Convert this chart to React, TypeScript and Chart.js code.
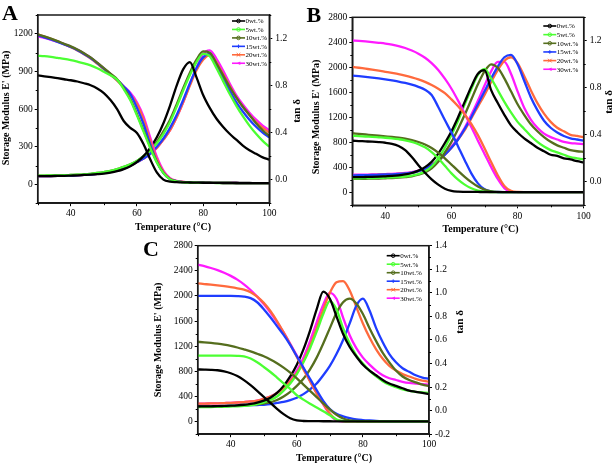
import React, { useEffect, useRef } from "react";
import { Chart, registerables } from "chart.js";
Chart.register(...registerables);

// ---------------- data ----------------
const temps = [30,32,34,36,38,40,42,44,46,48,50,52,54,56,58,60,62,64,66,68,70,72,74,76,78,80,82,84,86,88,90,92,94,96,98,100];

const seriesLabels = ["0wt.%", "5wt.%", "10wt.%", "15wt.%", "20wt.%", "30wt.%"];
const seriesColors = ["#000000", "#4cff33", "#556e1e", "#1f3dff", "#ff6a3d", "#ff1aff"];

// Panel A — storage modulus (MPa)
const aMod0 = [868,861,854,846,838,830,820,806,790,765,728,672,600,505,450,410,320,200,95,38,22,18,16,15,14,13,13,12,12,12,11,11,11,10,10,10];
const aMod5 = [1025,1022,1016,1008,1000,990,978,965,948,925,898,870,835,760,670,550,420,290,175,90,40,22,17,14,13,12,12,11,11,11,10,10,10,10,10,10];
const aMod10 = [1195,1180,1162,1142,1120,1100,1075,1045,1012,970,927,882,838,770,680,560,430,300,180,92,42,24,18,15,14,13,12,12,11,11,11,10,10,10,10,10];
const aMod15 = [1188,1172,1155,1136,1116,1095,1070,1040,1007,966,922,878,833,780,720,610,480,320,180,90,42,25,18,15,14,13,12,12,11,11,11,10,10,10,10,10];
const aMod20 = [1195,1178,1160,1140,1117,1093,1067,1037,1003,962,918,873,826,772,715,640,515,350,200,100,46,27,19,16,14,13,12,12,11,11,11,10,10,10,10,10];
const aMod30 = [1180,1168,1153,1137,1118,1097,1073,1044,1010,968,924,880,835,782,730,655,540,375,220,110,50,28,20,16,14,13,12,12,11,11,11,10,10,10,10,10];
// Panel A — tan delta
const aTan0 = [0.03,0.03,0.03,0.032,0.033,0.035,0.037,0.04,0.043,0.047,0.052,0.06,0.072,0.09,0.115,0.15,0.2,0.27,0.36,0.48,0.63,0.8,0.94,1.0,0.87,0.72,0.61,0.52,0.45,0.39,0.34,0.29,0.25,0.22,0.19,0.17];
const aTan5 = [0.035,0.035,0.036,0.037,0.038,0.04,0.042,0.045,0.05,0.057,0.065,0.075,0.09,0.11,0.13,0.16,0.2,0.25,0.31,0.39,0.49,0.62,0.76,0.89,1.0,1.07,1.05,0.95,0.84,0.73,0.63,0.54,0.46,0.39,0.33,0.28];
const aTan10 = [0.035,0.035,0.036,0.037,0.038,0.04,0.042,0.045,0.05,0.057,0.065,0.075,0.09,0.11,0.13,0.16,0.2,0.25,0.32,0.41,0.51,0.64,0.78,0.91,1.02,1.09,1.08,0.99,0.89,0.79,0.7,0.62,0.55,0.48,0.42,0.37];
const aTan15 = [0.03,0.03,0.031,0.032,0.033,0.035,0.037,0.04,0.044,0.05,0.057,0.066,0.078,0.093,0.12,0.15,0.18,0.22,0.28,0.35,0.44,0.55,0.68,0.82,0.95,1.04,1.07,0.98,0.87,0.76,0.66,0.58,0.51,0.45,0.4,0.36];
const aTan20 = [0.03,0.03,0.031,0.032,0.033,0.035,0.037,0.04,0.044,0.05,0.057,0.066,0.078,0.093,0.12,0.15,0.18,0.22,0.27,0.34,0.42,0.53,0.66,0.8,0.93,1.02,1.06,1.0,0.9,0.8,0.7,0.62,0.55,0.49,0.44,0.4];
const aTan30 = [0.03,0.03,0.031,0.032,0.033,0.035,0.037,0.04,0.044,0.05,0.057,0.066,0.078,0.093,0.12,0.15,0.18,0.22,0.27,0.34,0.42,0.53,0.66,0.81,0.95,1.07,1.1,1.03,0.93,0.82,0.72,0.64,0.57,0.51,0.46,0.42];

// Panel B — storage modulus (MPa)
const bMod0 = [830,825,820,815,808,798,780,745,680,570,440,320,215,130,65,30,18,15,14,13,12,12,11,11,11,11,10,10,10,10,10,10,10,10,10,10];
const bMod5 = [910,905,898,892,885,878,868,855,838,812,775,725,650,550,430,310,210,130,72,35,18,12,10,10,10,10,10,10,10,10,10,10,10,10,10,10];
const bMod10 = [950,940,930,920,910,900,890,878,862,840,810,770,715,640,550,450,350,255,170,100,50,22,13,11,10,10,10,10,10,10,10,10,10,10,10,10];
const bMod15 = [1870,1860,1850,1838,1825,1810,1793,1775,1752,1725,1690,1645,1560,1370,1160,960,740,520,310,150,55,20,12,10,10,10,10,10,10,10,10,10,10,10,10,10];
const bMod20 = [2010,1995,1980,1965,1948,1930,1912,1893,1870,1842,1810,1770,1720,1660,1590,1490,1380,1250,1100,920,710,490,280,110,30,12,10,10,10,10,10,10,10,10,10,10];
const bMod30 = [2430,2423,2415,2405,2393,2380,2363,2340,2310,2270,2220,2155,2070,1960,1820,1660,1470,1260,1050,830,620,410,220,75,15,10,10,10,10,10,10,10,10,10,10,10];
// Panel B — tan delta
const bTan0 = [0.04,0.04,0.041,0.042,0.044,0.047,0.05,0.055,0.063,0.075,0.095,0.125,0.17,0.24,0.33,0.43,0.55,0.68,0.81,0.92,0.95,0.78,0.67,0.57,0.48,0.42,0.37,0.33,0.29,0.26,0.23,0.22,0.2,0.19,0.175,0.165];
const bTan5 = [0.03,0.03,0.031,0.032,0.033,0.035,0.037,0.04,0.045,0.053,0.065,0.09,0.13,0.2,0.29,0.4,0.52,0.66,0.79,0.91,0.96,0.88,0.78,0.68,0.59,0.51,0.45,0.39,0.34,0.3,0.27,0.25,0.23,0.21,0.2,0.19];
const bTan10 = [0.025,0.025,0.026,0.027,0.028,0.03,0.032,0.035,0.04,0.047,0.06,0.08,0.115,0.17,0.25,0.34,0.45,0.57,0.7,0.83,0.94,1.0,0.97,0.88,0.77,0.66,0.57,0.49,0.43,0.38,0.34,0.31,0.29,0.27,0.26,0.255];
const bTan15 = [0.055,0.056,0.057,0.058,0.06,0.062,0.064,0.067,0.071,0.077,0.09,0.11,0.14,0.18,0.23,0.29,0.36,0.45,0.55,0.66,0.77,0.88,0.98,1.06,1.08,1.0,0.86,0.72,0.61,0.52,0.46,0.42,0.39,0.37,0.36,0.35];
const bTan20 = [0.055,0.056,0.057,0.058,0.06,0.062,0.064,0.067,0.071,0.077,0.09,0.11,0.14,0.18,0.23,0.29,0.36,0.44,0.54,0.64,0.74,0.85,0.95,1.03,1.06,1.01,0.9,0.78,0.67,0.58,0.51,0.46,0.43,0.4,0.39,0.38];
const bTan30 = [0.06,0.06,0.061,0.062,0.064,0.066,0.068,0.071,0.075,0.082,0.095,0.115,0.145,0.185,0.235,0.3,0.37,0.46,0.57,0.69,0.82,0.94,1.02,1.02,0.92,0.77,0.63,0.53,0.46,0.41,0.38,0.36,0.34,0.33,0.325,0.32];

// Panel C — storage modulus (MPa)
const cMod0 = [830,828,825,818,800,770,725,660,580,490,395,300,205,120,55,20,10,8,7,6,6,5,5,5,5,5,5,5,5,5,5,5,5,5,5,5];
const cMod5 = [1050,1050,1050,1050,1050,1050,1048,1040,1005,945,870,790,700,610,520,420,350,285,225,165,100,35,10,5,5,5,5,5,5,5,5,5,5,5,5,5];
const cMod10 = [1270,1262,1252,1240,1225,1205,1180,1150,1118,1080,1040,990,930,860,780,690,590,490,390,290,195,110,50,20,10,8,6,5,5,5,5,5,5,5,5,5];
const cMod15 = [2000,2000,2000,2000,2000,2000,1998,1990,1965,1900,1790,1660,1520,1380,1220,1040,860,680,500,330,200,125,85,55,35,25,18,12,8,6,5,5,5,5,5,5];
const cMod20 = [2200,2190,2180,2168,2155,2140,2122,2100,2060,1990,1890,1760,1600,1420,1230,1030,830,640,450,280,130,30,8,5,5,5,5,5,5,5,5,5,5,5,5,5];
const cMod30 = [2500,2475,2445,2410,2370,2320,2260,2185,2095,1990,1870,1735,1585,1420,1240,1050,850,650,455,275,115,20,5,5,5,5,5,5,5,5,5,5,5,5,5,5];
// Panel C — tan delta
const cTan0 = [0.035,0.036,0.037,0.038,0.04,0.042,0.045,0.05,0.057,0.068,0.085,0.11,0.15,0.21,0.29,0.39,0.52,0.68,0.86,1.01,0.95,0.8,0.65,0.54,0.46,0.39,0.34,0.3,0.26,0.23,0.21,0.19,0.17,0.16,0.15,0.14];
const cTan5 = [0.03,0.03,0.031,0.032,0.033,0.035,0.037,0.04,0.045,0.055,0.07,0.09,0.12,0.17,0.23,0.31,0.41,0.53,0.67,0.82,0.93,0.86,0.7,0.57,0.47,0.4,0.34,0.29,0.25,0.22,0.2,0.18,0.17,0.16,0.155,0.15];
const cTan10 = [0.035,0.035,0.036,0.037,0.038,0.04,0.042,0.045,0.049,0.054,0.06,0.07,0.09,0.12,0.16,0.21,0.27,0.35,0.45,0.57,0.7,0.83,0.92,0.95,0.91,0.82,0.7,0.59,0.49,0.41,0.34,0.29,0.26,0.24,0.22,0.21];
const cTan15 = [0.035,0.035,0.036,0.037,0.038,0.04,0.042,0.044,0.046,0.048,0.05,0.055,0.065,0.075,0.09,0.11,0.14,0.18,0.23,0.3,0.38,0.48,0.6,0.74,0.89,0.95,0.85,0.7,0.58,0.48,0.41,0.36,0.33,0.3,0.28,0.27];
const cTan20 = [0.06,0.06,0.061,0.062,0.064,0.066,0.069,0.073,0.078,0.086,0.1,0.12,0.15,0.19,0.25,0.32,0.42,0.55,0.7,0.86,1.0,1.09,1.1,1.02,0.88,0.74,0.62,0.52,0.44,0.38,0.34,0.31,0.29,0.27,0.255,0.245];
const cTan30 = [0.06,0.06,0.061,0.062,0.064,0.066,0.069,0.073,0.078,0.086,0.1,0.12,0.15,0.2,0.26,0.34,0.45,0.59,0.75,0.9,1.0,0.95,0.79,0.64,0.53,0.45,0.39,0.34,0.3,0.275,0.26,0.245,0.235,0.23,0.225,0.22];

// tick labels
const xTickValues = [40, 60, 80, 100];
const aModTicks = [0, 300, 600, 900, 1200];
const aTanTicks = [0.0, 0.4, 0.8, 1.2];
const bModTicks = [0, 400, 800, 1200, 1600, 2000, 2400, 2800];
const bTanTicks = [0.0, 0.4, 0.8, 1.2];
const cModTicks = [0, 400, 800, 1200, 1600, 2000, 2400, 2800];
const cTanTicks = [-0.2, 0.0, 0.2, 0.4, 0.6, 0.8, 1.0, 1.2, 1.4];

const xTitle = "Temperature (\u00B0C)";
const yTitle = "Storage Modulus E' (MPa)";
const y2Title = "tan \u03B4";

// ---------------- layout ----------------
const W = 614, H = 465;
const SERIF = "'Liberation Serif', 'Times New Roman', serif";

type Panel = {
  letter: string;
  mod: number[][];
  tan: number[][];
  modRange: [number, number];
  tanRange: [number, number];
  modTicks: number[];
  tanTicks: number[];
  rect: { l: number; r: number; t: number; b: number };
  letterPos: [number, number];
  legend: { x: number; y: number; dy: number };
  yTitlePos: [number, number];
  y2TitlePos: [number, number];
  xTitlePos: [number, number];
};

const panels: Panel[] = [
  {
    letter: "A",
    mod: [aMod0, aMod5, aMod10, aMod15, aMod20, aMod30],
    tan: [aTan0, aTan5, aTan10, aTan15, aTan20, aTan30],
    modRange: [-150, 1350], tanRange: [-0.2, 1.4],
    modTicks: aModTicks, tanTicks: aTanTicks,
    rect: { l: 37.7, r: 269.3, t: 15, b: 203.2 },
    letterPos: [2, 19.5],
    legend: { x: 232, y: 21, dy: 8.45 },
    yTitlePos: [6.5, 108], y2TitlePos: [297.5, 111], xTitlePos: [173, 227],
  },
  {
    letter: "B",
    mod: [bMod0, bMod5, bMod10, bMod15, bMod20, bMod30],
    tan: [bTan0, bTan5, bTan10, bTan15, bTan20, bTan30],
    modRange: [-200, 2800], tanRange: [-0.2, 1.4],
    modTicks: bModTicks, tanTicks: bTanTicks,
    rect: { l: 352.3, r: 583.7, t: 17.3, b: 205.3 },
    letterPos: [306.5, 21.7],
    legend: { x: 543.3, y: 26, dy: 8.65 },
    yTitlePos: [316, 117], y2TitlePos: [609.5, 102], xTitlePos: [480.5, 229],
  },
  {
    letter: "C",
    mod: [cMod0, cMod5, cMod10, cMod15, cMod20, cMod30],
    tan: [cTan0, cTan5, cTan10, cTan15, cTan20, cTan30],
    modRange: [-200, 2800], tanRange: [-0.2, 1.4],
    modTicks: cModTicks, tanTicks: cTanTicks,
    rect: { l: 197.7, r: 429, t: 245.7, b: 434.2 },
    letterPos: [143, 255.5],
    legend: { x: 386.7, y: 255.7, dy: 8.5 },
    yTitlePos: [158.3, 340], y2TitlePos: [460, 322], xTitlePos: [334, 458.3],
  },
];

const Y_W = 30, Y1_W = 30, X_H = 20;

function drawMarker(ctx: CanvasRenderingContext2D, i: number, x: number, y: number, color: string) {
  ctx.save();
  ctx.strokeStyle = color;
  ctx.fillStyle = color;
  ctx.lineWidth = 1;
  const r = 1.8;
  ctx.beginPath();
  if (i === 3) {
    ctx.moveTo(x - r, y); ctx.lineTo(x + r, y);
    ctx.moveTo(x, y - r); ctx.lineTo(x, y + r);
    ctx.stroke();
  } else if (i === 5) {
    ctx.moveTo(x - r, y); ctx.lineTo(x + r, y - r); ctx.lineTo(x + r, y + r); ctx.closePath();
    ctx.fill();
  } else if (i === 4) {
    ctx.moveTo(x - r, y - r); ctx.lineTo(x + r, y + r);
    ctx.moveTo(x + r, y - r); ctx.lineTo(x - r, y + r);
    ctx.moveTo(x - r, y); ctx.lineTo(x + r, y);
    ctx.stroke();
  } else {
    ctx.arc(x, y, r, 0, Math.PI * 2);
    ctx.stroke();
  }
  ctx.restore();
}

function makeDecor(p: Panel) {
  return {
    id: "decor" + p.letter,
    afterDraw(chart: any) {
      const ctx: CanvasRenderingContext2D = chart.ctx;
      const ca = chart.chartArea;
      const ys = chart.scales.y, y1s = chart.scales.y1, xs = chart.scales.x;
      ctx.save();
      // frame
      ctx.strokeStyle = "#1a1a1a";
      ctx.lineWidth = 1.5;
      ctx.strokeRect(ca.left, ca.top, ca.right - ca.left, ca.bottom - ca.top);
      // minor ticks
      ctx.lineWidth = 1;
      ctx.strokeStyle = "#000";
      ctx.beginPath();
      const mStep = (p.modTicks[1] - p.modTicks[0]) / 2;
      for (let v = p.modTicks[0] - mStep; v <= p.modRange[1] + 1e-9; v += 2 * mStep) {
        if (v < p.modRange[0]) continue;
        const yy = Math.round(ys.getPixelForValue(v)) + 0.5;
        ctx.moveTo(ca.left, yy); ctx.lineTo(ca.left - 2, yy);
      }
      const tStep = (p.tanTicks[1] - p.tanTicks[0]) / 2;
      for (let v = p.tanTicks[0] - tStep; v <= p.tanRange[1] + 1e-9; v += 2 * tStep) {
        if (v < p.tanRange[0] - 1e-9) continue;
        const yy = Math.round(y1s.getPixelForValue(v)) + 0.5;
        ctx.moveTo(ca.right, yy); ctx.lineTo(ca.right + 2, yy);
      }
      for (let v = 30; v <= 100; v += 20) {
        const xx = Math.round(xs.getPixelForValue(v)) + 0.5;
        ctx.moveTo(xx, ca.bottom); ctx.lineTo(xx, ca.bottom + 2);
      }
      ctx.stroke();
      // legend
      ctx.font = "7px " + SERIF;
      ctx.textBaseline = "middle";
      ctx.textAlign = "left";
      seriesLabels.forEach((lab, i) => {
        const yy = p.legend.y + i * p.legend.dy;
        ctx.strokeStyle = seriesColors[i];
        ctx.lineWidth = 1.6;
        ctx.beginPath();
        ctx.moveTo(p.legend.x, yy); ctx.lineTo(p.legend.x + 13, yy);
        ctx.stroke();
        drawMarker(ctx, i, p.legend.x + 6.5, yy, seriesColors[i]);
        ctx.fillStyle = "#000";
        ctx.fillText(lab, p.legend.x + 13.5, yy + 0.5);
      });
      // titles
      ctx.fillStyle = "#000";
      ctx.font = "bold 10px " + SERIF;
      ctx.textAlign = "center";
      ctx.textBaseline = "middle";
      ctx.fillText(xTitle, p.xTitlePos[0], p.xTitlePos[1]);
      ctx.save();
      ctx.translate(p.yTitlePos[0], p.yTitlePos[1]);
      ctx.rotate(-Math.PI / 2);
      ctx.fillText(yTitle, 0, 0);
      ctx.restore();
      ctx.save();
      ctx.translate(p.y2TitlePos[0], p.y2TitlePos[1]);
      ctx.rotate(-Math.PI / 2);
      ctx.font = "bold 11px " + SERIF;
      ctx.fillText(y2Title, 0, 0);
      ctx.restore();
      // panel letter
      ctx.font = "bold 22px " + SERIF;
      ctx.textAlign = "left";
      ctx.textBaseline = "alphabetic";
      ctx.fillText(p.letter, p.letterPos[0], p.letterPos[1]);
      ctx.restore();
    },
  };
}

function buildConfig(p: Panel): any {
  const tickFont = { family: SERIF, size: 9.5 };
  const grid = { display: true, drawOnChartArea: false, drawTicks: true, tickLength: 3, color: "#000", lineWidth: 1 };
  const border = { display: true, color: "#1a1a1a", width: 1.5 };
  const datasets: any[] = [];
  p.mod.forEach((arr, i) => {
    datasets.push({
      label: seriesLabels[i] + " E'",
      data: temps.map((t, k) => ({ x: t, y: arr[k] })),
      borderColor: seriesColors[i],
      yAxisID: "y",
    });
  });
  p.tan.forEach((arr, i) => {
    datasets.push({
      label: seriesLabels[i] + " tan",
      data: temps.map((t, k) => ({ x: t, y: arr[k] })),
      borderColor: seriesColors[i],
      yAxisID: "y1",
    });
  });
  return {
    type: "line",
    data: { datasets },
    plugins: [makeDecor(p)],
    options: {
      responsive: false,
      maintainAspectRatio: false,
      animation: false,
      events: [],
      layout: {
        padding: { left: p.rect.l - Y_W, right: W - p.rect.r - Y1_W, top: p.rect.t, bottom: H - p.rect.b - X_H },
      },
      elements: {
        point: { radius: 0 },
        line: { borderWidth: 2.3, cubicInterpolationMode: "monotone", fill: false },
      },
      plugins: { legend: { display: false }, tooltip: { enabled: false }, title: { display: false } },
      scales: {
        x: {
          type: "linear", min: 30, max: 100,
          afterFit: (s: any) => { s.height = X_H; },
          afterBuildTicks: (s: any) => { s.ticks = xTickValues.map((v) => ({ value: v })); },
          grid, border,
          ticks: { font: tickFont, color: "#000", padding: 2, maxRotation: 0, autoSkip: false, callback: (v: number) => String(v) },
        },
        y: {
          type: "linear", position: "left", min: p.modRange[0], max: p.modRange[1],
          afterFit: (s: any) => { s.width = Y_W; },
          afterBuildTicks: (s: any) => { s.ticks = p.modTicks.map((v) => ({ value: v })); },
          grid, border,
          ticks: { font: tickFont, color: "#000", padding: 2, autoSkip: false, callback: (v: number) => String(v) },
        },
        y1: {
          type: "linear", position: "right", min: p.tanRange[0], max: p.tanRange[1],
          afterFit: (s: any) => { s.width = Y1_W; },
          afterBuildTicks: (s: any) => { s.ticks = p.tanTicks.map((v) => ({ value: v })); },
          grid, border,
          ticks: { font: tickFont, color: "#000", padding: 3, autoSkip: false, callback: (v: number) => Number(v).toFixed(1) },
        },
      },
    },
  };
}

function PanelCanvas({ panel }: { panel: Panel }) {
  const ref = useRef<HTMLCanvasElement | null>(null);
  useEffect(() => {
    if (!ref.current) return;
    const chart = new Chart(ref.current, buildConfig(panel));
    return () => chart.destroy();
  }, [panel]);
  return (
    <canvas
      ref={ref}
      width={W}
      height={H}
      style={{ position: "absolute", left: 0, top: 0, width: W, height: H }}
    />
  );
}

export default function App() {
  return (
    <div style={{ position: "fixed", left: 0, top: 0, width: W, height: H, background: "#fff", overflow: "hidden" }}>
      {panels.map((p) => (
        <PanelCanvas key={p.letter} panel={p} />
      ))}
    </div>
  );
}
